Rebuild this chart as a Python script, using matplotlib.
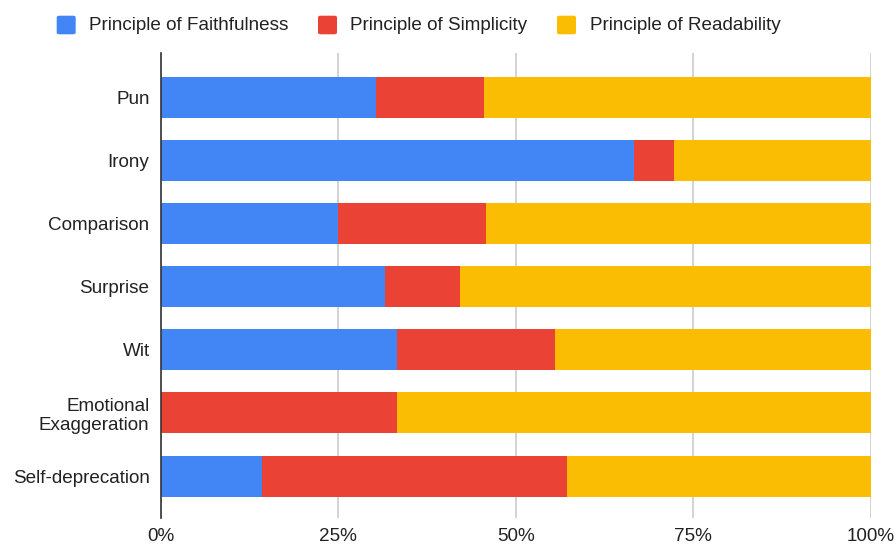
import matplotlib
matplotlib.use("Agg")
import matplotlib.pyplot as plt
from matplotlib.patches import FancyBboxPatch
from matplotlib.ticker import FuncFormatter

plt.rcParams['font.family'] = ['Liberation Sans', 'DejaVu Sans']

categories = ["Pun", "Irony", "Comparison", "Surprise", "Wit",
              "Emotional\nExaggeration", "Self-deprecation"]
series_names = ["Principle of Faithfulness", "Principle of Simplicity",
                "Principle of Readability"]
faithfulness = [30.3, 66.7, 25.0, 31.6, 33.3, 0.0, 14.3]
simplicity = [15.2, 5.6, 20.8, 10.5, 22.2, 33.3, 42.9]
readability = [54.5, 27.7, 54.2, 57.9, 44.5, 66.7, 42.8]
x_ticks = [0, 25, 50, 75, 100]
colors = ["#4285F4", "#EA4335", "#FBBC04"]

FS = 13.6
W, H = 894, 544
fig = plt.figure(figsize=(W / 100, H / 100), dpi=100)
ax = fig.add_axes([160.7 / W, 1 - 518.3 / H, 710 / W, 465 / H])

ypos = list(range(len(categories)))
left = [0.0] * len(categories)
for vals, col in zip([faithfulness, simplicity, readability], colors):
    ax.barh(ypos, vals, left=left, height=0.65, color=col, zorder=3)
    left = [a + b for a, b in zip(left, vals)]

ax.set_xlim(0, 100)
ax.set_ylim(6.67, -0.70)
ax.set_yticks(ypos)
ax.set_yticklabels(categories, fontsize=FS, color="#222222", linespacing=1.15)
ax.set_xticks(x_ticks)
ax.xaxis.set_major_formatter(FuncFormatter(lambda v, p: f"{v:.0f}%"))
ax.tick_params(axis="x", length=0, pad=7, labelsize=FS, labelcolor="#222222")
ax.tick_params(axis="y", length=0, pad=8)

for s in ["top", "right", "bottom"]:
    ax.spines[s].set_visible(False)
ax.spines["left"].set_color("#333333")
ax.spines["left"].set_linewidth(1.2)
ax.spines["left"].set_zorder(4)
ax.grid(axis="x", color="#cccccc", linewidth=1.2, zorder=0)
ax.set_axisbelow(True)

# legend row across the top
legend_x = [56.7, 318.0, 557.0]
for x0, name, col in zip(legend_x, series_names, colors):
    sq = FancyBboxPatch((x0 / W, 1 - 34.3 / H), 19 / W, 18.6 / H,
                        boxstyle="round,pad=0,rounding_size=0.003",
                        transform=fig.transFigure, facecolor=col,
                        edgecolor="none")
    fig.patches.append(sq)
    fig.text((x0 + 32.5) / W, 1 - 25 / H, name, fontsize=FS,
             color="#222222", va="center", ha="left")

fig.savefig("out.png", dpi=100)
